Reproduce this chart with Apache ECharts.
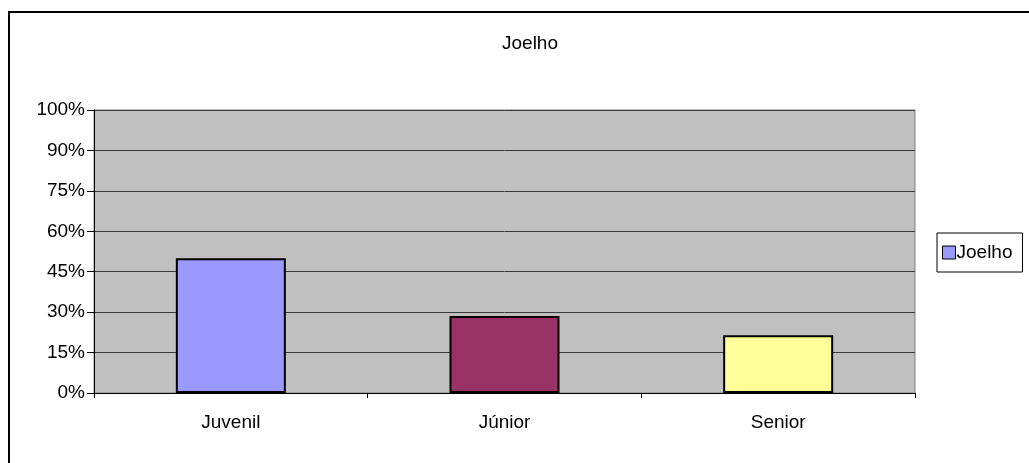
<!DOCTYPE html>
<html>
<head>
<meta charset="utf-8">
<script src="https://cdn.jsdelivr.net/npm/echarts@6/dist/echarts.min.js"></script>
<style>
  html, body { margin: 0; padding: 0; background: #fff; }
  #myChart { width: 1029px; height: 463px; }
</style>
</head>
<body>
<div id="myChart"></div>
<script>
// dados do gráfico
var categories = ['Juvenil', 'Júnior', 'Senior'];
var values = [50, 28.6, 21.4];
var barColors = ['#9999ff', '#993366', '#ffff99'];
// rótulos do eixo Y como aparecem no original (o último diz 100%)
var tickLabels = ['0%', '15%', '30%', '45%', '60%', '75%', '90%', '100%'];

var chart = echarts.init(document.getElementById('myChart'));
var font = '"Liberation Sans", Arial, sans-serif';

chart.setOption({
  animation: false,
  textStyle: { fontFamily: font },
  title: {
    text: 'Joelho',
    left: 525,
    top: 29,
    textAlign: 'center',
    textStyle: { fontSize: 19, fontWeight: 'normal', color: '#000', fontFamily: font }
  },
  legend: {
    data: ['Joelho'],
    left: 937,
    top: 233,
    orient: 'vertical',
    padding: [10, 10, 10, 5],
    itemWidth: 13,
    itemHeight: 13,
    itemGap: 0,
    borderColor: '#000',
    borderWidth: 1,
    icon: 'rect',
    itemStyle: { borderColor: '#000', borderWidth: 1 },
    textStyle: { fontSize: 19, color: '#000', fontFamily: font, padding: [0, 0, 0, -4] }
  },
  grid: {
    left: 94,
    right: 114,
    top: 110,
    bottom: 70,
    show: true,
    backgroundColor: '#c0c0c0',
    borderColor: '#808080',
    borderWidth: 1
  },
  graphic: [{
    type: 'rect',
    shape: { x: 9, y: 12, width: 1040, height: 480 },
    style: { fill: 'none', stroke: '#000', lineWidth: 2 },
    silent: true
  }],
  xAxis: {
    type: 'category',
    data: categories,
    axisLine: { lineStyle: { color: '#000', width: 1 } },
    axisTick: { show: true, length: 5, lineStyle: { color: '#000' } },
    axisLabel: { fontSize: 19, color: '#000', margin: 20, fontFamily: font }
  },
  yAxis: {
    type: 'value',
    min: 0,
    max: 105,
    interval: 15,
    axisLine: { show: true, lineStyle: { color: '#000', width: 1 } },
    axisTick: { show: true, length: 7, lineStyle: { color: '#000' } },
    axisLabel: {
      fontSize: 19,
      color: '#000',
      margin: 9,
      fontFamily: font,
      formatter: function (v) {
        return tickLabels[Math.round(v / 15)];
      }
    },
    splitLine: { show: true, lineStyle: { color: '#3a3a3a', width: 1 } }
  },
  series: [{
    name: 'Joelho',
    type: 'bar',
    barWidth: 110,
    itemStyle: { color: barColors[0], borderColor: '#000', borderWidth: 2 },
    data: values.map(function (v, i) {
      return { value: v, itemStyle: { color: barColors[i] } };
    })
  }]
});
</script>
</body>
</html>
